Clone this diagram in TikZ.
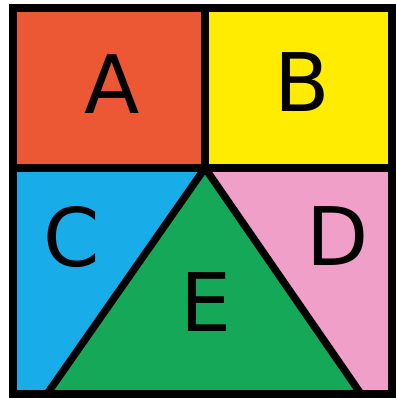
\documentclass[tikz,border=0pt]{standalone}
\usepackage{fontspec}
\setmainfont{DejaVu Sans}
\usetikzlibrary{calc}
\definecolor{colA}{RGB}{236,88,52}
\definecolor{colB}{RGB}{255,236,0}
\definecolor{colC}{RGB}{24,172,232}
\definecolor{colD}{RGB}{240,160,200}
\definecolor{colE}{RGB}{20,168,88}

\begin{document}
\begin{tikzpicture}[x=0.02cm,y=-0.02cm,
    borde/.style={line width=4.2pt},
    letra/.style={font=\fontsize{46}{46}\selectfont}]
  \useasboundingbox (0,0) rectangle (395,398);
  \coordinate (NW) at (13,8);
  \coordinate (SE) at (392,394);
  \coordinate (SW) at (13,394);
  \coordinate (T) at (205,8);
  \coordinate (L) at (13,168);
  \coordinate (R) at (392,168);
  \coordinate (M) at (205,168);
  \coordinate (P) at (47,394);
  \coordinate (Q) at (361,394);

  % Regiones de color
  \fill[colA] (NW) rectangle (M);
  \fill[colB] (T) rectangle (R);
  \fill[colC] (L) -- (M) -- (P) -- (SW) -- cycle;
  \fill[colD] (M) -- (R) -- (SE) -- (Q) -- cycle;
  \fill[colE] (M) -- (Q) -- (P) -- cycle;

  % Bordes
  \draw[borde] (L) -- (R);
  \draw[borde] (T) -- (M);
  \draw[borde, line join=miter] (P) -- (M) -- (Q);
  \draw[borde] (NW) rectangle (SE);

  % Etiquetas
  \node[letra] (a) at (112,84) {A};
  \node[letra] (b) at (302,82) {B};
  \node[letra] (c) at (72,237) {C};
  \node[letra] (d) at (338,236) {D};
  \node[letra] (e) at (206,302) {E};
\end{tikzpicture}
\end{document}
